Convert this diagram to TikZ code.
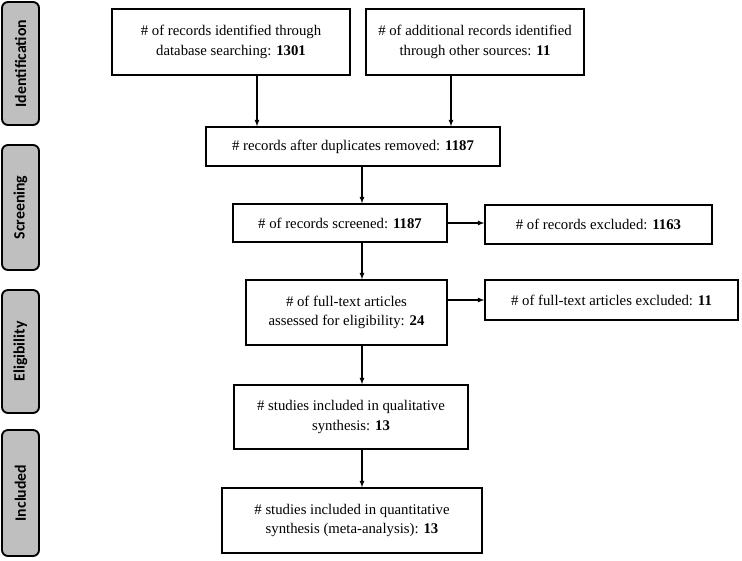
\documentclass[tikz,border=0pt]{standalone}
\usepackage{fontspec}
\setmainfont{Liberation Serif}
\newfontfamily\phasefont{Carlito}
\usetikzlibrary{arrows,calc,positioning}

\begin{document}
\begin{tikzpicture}
    [font=\fontsize{12.6}{16.5}\selectfont,
    record/.style={draw,line width=1.2pt,align=center,inner sep=0pt},
    phase/.style={draw,line width=1.6pt,rounded corners=0.18cm,fill=gray!50,rotate=90,
      minimum height=1.11cm,inner sep=0pt,font=\phasefont\fontsize{13.5}{16}\selectfont\bfseries},
    flow/.style={->,>=latex,line width=0.9pt}]

    \useasboundingbox (0,0) rectangle (22.26,-16.8);

    % phases
    \node[phase,minimum width=3.69cm] (identification) at (0.615,-1.905) {Identification};
    \node[phase,minimum width=3.75cm] (screening) at (0.615,-6.225) {Screening};
    \node[phase,minimum width=3.69cm] (eligibility) at (0.615,-10.545) {Eligibility};
    \node[phase,minimum width=3.78cm] (included) at (0.615,-14.79) {Included};

    % records
    \node[record,minimum width=7.14cm,minimum height=1.98cm] (database) at (6.93,-1.26)
    {\# of records identified through\\database searching: \textbf{1301}};
    \node[record,minimum width=6.54cm,minimum height=1.98cm] (other) at (14.25,-1.26)
    {\# of additional records identified\\through other sources: \textbf{11}};
    \node[record,minimum width=8.82cm,minimum height=1.17cm] (duplicates) at (10.59,-4.395)
    {\# records after duplicates removed: \textbf{1187}};
    \node[record,minimum width=6.42cm,minimum height=1.14cm] (screened) at (10.2,-6.69)
    {\# of records screened: \textbf{1187}};
    \node[record,minimum width=6.81cm,minimum height=1.17cm] (excluded) at (17.955,-6.735)
    {\# of records excluded: \textbf{1163}};
    \node[record,minimum width=6.03cm,minimum height=1.95cm] (fulltext) at (10.395,-9.375)
    {\# of full-text articles\\assessed for eligibility: \textbf{24}};
    \node[record,minimum width=7.59cm,minimum height=1.2cm] (ftexcluded) at (18.345,-9.0)
    {\# of full-text articles excluded: \textbf{11}};
    \node[record,minimum width=7.02cm,minimum height=1.92cm] (qualitative) at (10.53,-12.51)
    {\# studies included in qualitative\\synthesis: \textbf{13}};
    \node[record,minimum width=7.8cm,minimum height=1.95cm] (quantitative) at (10.56,-15.615)
    {\# studies included in quantitative\\synthesis (meta-analysis): \textbf{13}};

    \coordinate (dbcol) at (7.71,0);
    \coordinate (othercol) at (13.53,0);
    \coordinate (midcol) at (10.86,0);

    \draw[flow] (database.south -| dbcol) -- (duplicates.north -| dbcol);
    \draw[flow] (other.south -| othercol) -- (duplicates.north -| othercol);
    \draw[flow] (duplicates.south -| midcol) -- (screened.north -| midcol);
    \draw[flow] (screened.east) -- (screened.east -| excluded.west);
    \draw[flow] (screened.south -| midcol) -- (fulltext.north -| midcol);
    \draw[flow] (fulltext.east |- ftexcluded.west) -- (ftexcluded.west);
    \draw[flow] (fulltext.south -| midcol) -- (qualitative.north -| midcol);
    \draw[flow] (qualitative.south -| midcol) -- (quantitative.north -| midcol);
\end{tikzpicture}
\end{document}
